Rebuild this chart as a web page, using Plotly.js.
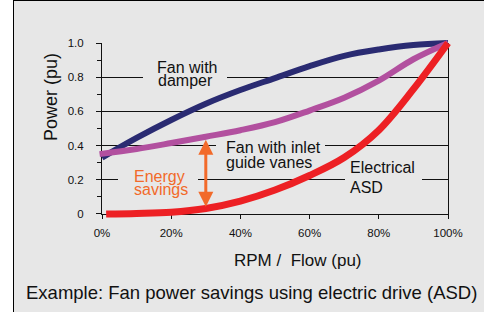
<!DOCTYPE html>
<html>
<head>
<meta charset="utf-8">
<script src="https://cdn.plot.ly/plotly-3.0.1.min.js"></script>
<style>
  html, body { margin:0; padding:0; background:#ffffff; }
  #frame { position:absolute; left:13px; top:0; width:471px; height:312px; box-sizing:border-box;
           border-left:1px solid #000; border-top:1px solid #000; background:#e7e7e7; }
  #chart { position:absolute; left:0; top:0; width:470px; height:311px; }
</style>
</head>
<body>
<div id="frame"><div id="chart"></div></div>
<script>
// ---- data ----
const damperX = [0, 0.1, 0.2, 0.3, 0.4, 0.5, 0.6, 0.7, 0.8, 0.9, 1.0];
const damperY = [0.33, 0.445, 0.55, 0.645, 0.725, 0.795, 0.865, 0.925, 0.962, 0.988, 1.0];

const vanesX = [-0.007, 0.1, 0.2, 0.3, 0.4, 0.5, 0.6, 0.7, 0.8, 0.9, 1.0];
const vanesY = [0.35, 0.38, 0.415, 0.452, 0.49, 0.537, 0.605, 0.68, 0.78, 0.905, 1.0];

const asdX = [0.012, 0.1, 0.2, 0.3, 0.4, 0.5, 0.6, 0.7, 0.8, 0.9, 1.0];
const asdY = [0, 0.003, 0.01, 0.032, 0.075, 0.14, 0.225, 0.33, 0.49, 0.73, 1.0];

const xTickVals = [0, 0.2, 0.4, 0.6, 0.8, 1.0];
const xTickText = ['0%', '20%', '40%', '60%', '80%', '100%'];
const yTickVals = [0, 0.2, 0.4, 0.6, 0.8, 1.0];
const yTickText = ['0', '0.2', '0.4', '0.6', '0.8', '1.0'];
const yMinorVals = [0.1, 0.3, 0.5, 0.7, 0.9];

const savingsAt = 0.3, savingsTop = 0.434, savingsBottom = 0.033;

const xTitle = 'RPM /\u00a0\u00a0Flow (pu)';
const yTitle = 'Power (pu)';
const caption = 'Example: Fan power savings using electric drive (ASD)';

// ---- geometry ----
const FONT = '"Liberation Sans", Arial, Helvetica, sans-serif';
const W = 470, H = 311;
const X0 = 88, X1 = 434, Y0 = 213, Y1 = 42.3, PAD = 10;
const m = { l: X0 - PAD, r: W - (X1 + PAD), t: Y1 - PAD, b: H - (Y0 + PAD), pad: 0 };
const pw = X1 - X0 + 2 * PAD, ph = Y0 - Y1 + 2 * PAD;
const px = v => (v - m.l) / pw;
const py = v => (m.t + ph - v) / ph;

const NAVY = '#2a2b72', PURPLE = '#b2509f', RED = '#ed2024', ORANGE = '#f26a2a', BG = '#e7e7e7', INK = '#111111';

const traces = [
  { x: damperX, y: damperY, xaxis: 'x2', yaxis: 'y2', mode: 'lines', line: { color: NAVY, width: 6, shape: 'spline', smoothing: 1 }, hoverinfo: 'skip' },
  { x: vanesX, y: vanesY, xaxis: 'x2', yaxis: 'y2', mode: 'lines', line: { color: PURPLE, width: 6, shape: 'spline', smoothing: 1 }, hoverinfo: 'skip' },
  { x: asdX, y: asdY, xaxis: 'x2', yaxis: 'y2', mode: 'lines', line: { color: RED, width: 7, shape: 'spline', smoothing: 1 }, hoverinfo: 'skip' }
];

function gap(x0, widthPx, yv) {
  return { xref: 'x', yref: 'y', x: x0, y: yv, xanchor: 'left', yanchor: 'middle', text: '\u00a0',
           width: widthPx, height: 6, bgcolor: BG, borderpad: 0, borderwidth: 0, showarrow: false, font: { size: 4 } };
}
function label(txt, x, y, anchor, color) {
  return { xref: 'x', yref: 'y', x: x, y: y, xanchor: anchor, yanchor: 'middle', text: txt, showarrow: false,
           borderpad: 0, borderwidth: 0, font: { family: FONT, size: 16, color: color || INK } };
}

const annotations = [
  gap(0.1185, 84, 0.8),
  gap(0.329, 109, 0.4),
  gap(0.702, 77, 0.2),
  gap(0.046, 80, 0.2),
  label('Fan with', 0.245, 0.855, 'center'),
  label('damper', 0.240, 0.780, 'center'),
  label('Fan with inlet', 0.359, 0.386, 'left'),
  label('guide vanes', 0.357, 0.302, 'left'),
  label('Electrical', 0.717, 0.272, 'left'),
  label('ASD', 0.717, 0.157, 'left'),
  label('Energy', 0.0916, 0.219, 'left', ORANGE),
  label('savings', 0.0916, 0.146, 'left', ORANGE),
  { xref: 'x', yref: 'y', axref: 'x', ayref: 'y', x: savingsAt, y: savingsTop, ax: savingsAt, ay: savingsBottom,
    text: '', showarrow: true, arrowside: 'end+start', arrowhead: 2, startarrowhead: 2,
    arrowsize: 1, startarrowsize: 1, arrowwidth: 3, arrowcolor: ORANGE, standoff: 0, startstandoff: 0 },
  { xref: 'paper', yref: 'paper', x: px(37.7), y: py(96.5), xanchor: 'center', yanchor: 'middle', textangle: -90,
    text: yTitle, showarrow: false, font: { family: FONT, size: 18, color: INK } },
  { xref: 'paper', yref: 'paper', x: px(284), y: py(259.5), xanchor: 'center', yanchor: 'middle',
    text: xTitle, showarrow: false, font: { family: FONT, size: 17, color: INK } },
  { xref: 'paper', yref: 'paper', x: px(237.3), y: py(291), xanchor: 'center', yanchor: 'middle',
    text: caption, showarrow: false, font: { family: FONT, size: 18.5, color: INK } }
];

const layout = {
  width: W, height: H, margin: m,
  paper_bgcolor: BG, plot_bgcolor: 'rgba(0,0,0,0)',
  showlegend: false,
  font: { family: FONT, color: INK },
  xaxis: {
    domain: [PAD / pw, 1 - PAD / pw], anchor: 'y', range: [0, 1],
    tickmode: 'array', tickvals: xTickVals, ticktext: xTickText,
    ticks: 'outside', ticklen: 4, tickwidth: 1, tickcolor: INK,
    showline: true, linecolor: INK, linewidth: 1, showgrid: false, zeroline: false,
    tickfont: { family: FONT, size: 11.5, color: INK }, ticklabelstandoff: 4
  },
  yaxis: {
    domain: [PAD / ph, 1 - PAD / ph], anchor: 'x', range: [0, 1],
    tickmode: 'array', tickvals: yTickVals, ticktext: yTickText,
    ticks: 'outside', ticklen: 5, tickwidth: 1, tickcolor: INK,
    showline: true, mirror: true, linecolor: INK, linewidth: 1,
    showgrid: true, gridcolor: INK, gridwidth: 1, zeroline: false,
    minor: { tickvals: yMinorVals, ticks: 'outside', ticklen: 4, tickcolor: INK, showgrid: false },
    tickfont: { family: FONT, size: 11.5, color: INK }, ticklabelstandoff: 10
  },
  xaxis2: { domain: [0, 1], anchor: 'y2', range: [-PAD / (X1 - X0), 1 + PAD / (X1 - X0)], visible: false, fixedrange: true },
  yaxis2: { domain: [0, 1], anchor: 'x2', range: [-PAD / (Y0 - Y1), 1 + PAD / (Y0 - Y1)], visible: false, fixedrange: true },
  annotations: annotations
};

Plotly.newPlot('chart', traces, layout, { staticPlot: true, displayModeBar: false });
</script>
</body>
</html>
